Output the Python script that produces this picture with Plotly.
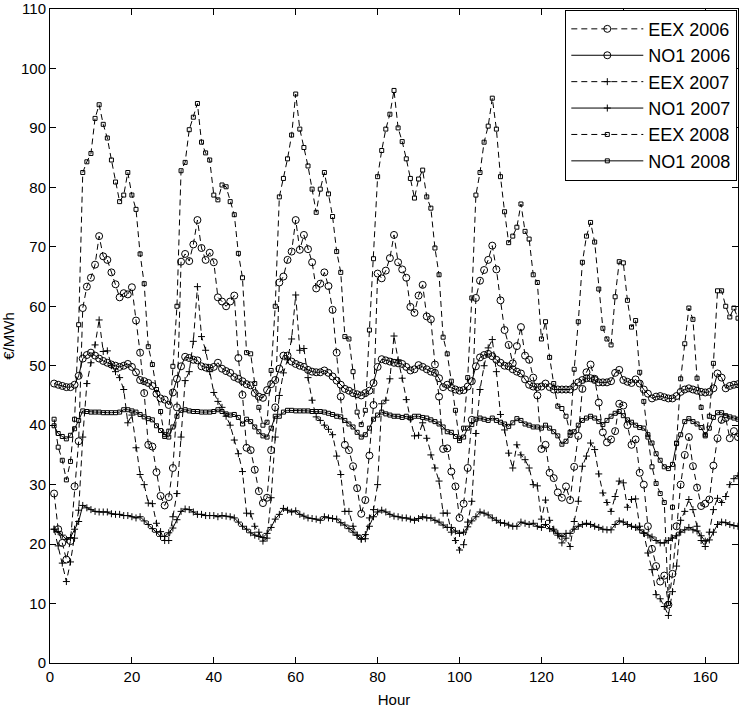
import plotly.graph_objects as go

hours = list(range(1, 169))

eex_2006 = [
    28.5, 22.5, 20.2, 17.4, 20.5, 29.7, 37.3, 59.7, 63.3, 64.8, 67.0, 71.8, 68.4, 67.8, 65.7, 63.7, 61.5, 62.2, 62.0, 63.2, 57.6, 52.2, 45.4, 36.7,
    36.4, 32.1, 28.1, 26.5, 27.9, 32.8, 43.0, 67.5, 68.8, 67.6, 70.4, 74.5, 69.8, 67.8, 69.0, 67.4, 61.5, 60.8, 60.0, 60.8, 61.8, 51.3, 45.1, 36.2,
    35.8, 32.5, 28.9, 26.9, 27.8, 35.8, 43.0, 64.0, 65.0, 67.8, 69.2, 74.5, 69.5, 72.0, 69.6, 67.4, 63.0, 63.8, 65.7, 63.4, 59.4, 52.2, 44.8, 36.7,
    35.8, 33.1, 29.4, 25.1, 27.4, 34.9, 43.4, 65.5, 64.7, 66.0, 68.1, 72.0, 67.4, 66.2, 64.8, 59.9, 58.9, 61.8, 63.6, 58.3, 57.8, 50.2, 44.8, 36.0,
    36.1, 32.2, 29.7, 24.4, 26.8, 32.8, 40.9, 61.4, 64.3, 66.1, 67.8, 70.2, 66.2, 61.0, 56.0, 53.5, 50.4, 53.3, 56.5, 51.7, 51.0, 48.0, 45.0, 36.0,
    36.7, 32.0, 31.1, 28.7, 27.8, 29.7, 27.4, 33.0, 38.2, 46.1, 48.9, 50.2, 47.8, 43.8, 38.8, 37.1, 37.6, 39.0, 43.6, 43.3, 40.0, 36.7, 37.6, 32.0,
    30.0, 23.0, 19.2, 16.3, 13.7, 14.7, 9.8, 15.0, 23.0, 30.0, 35.0, 38.0, 33.1, 29.5, 26.4, 26.8, 27.5, 33.2, 37.8, 40.9, 41.2, 37.8, 39.0, 38.0,
]

no1_2006 = [
    47.0, 46.8, 46.6, 46.4, 46.4, 46.8, 48.3, 51.2, 51.8, 52.2, 51.7, 51.2, 50.8, 50.5, 50.2, 50.0, 49.8, 50.0, 50.3, 49.8, 48.9, 47.6, 47.4, 47.1,
    46.6, 45.3, 44.5, 44.3, 43.4, 45.5, 47.8, 49.9, 51.5, 51.3, 51.0, 50.9, 49.9, 49.7, 49.6, 49.8, 50.5, 49.5, 49.1, 48.8, 48.1, 47.8, 47.4, 46.9,
    46.7, 45.4, 44.8, 44.6, 45.9, 46.9, 47.6, 49.5, 51.7, 51.7, 50.7, 50.3, 50.0, 49.8, 49.3, 49.0, 48.9, 48.9, 49.2, 48.8, 48.2, 47.5, 46.8, 46.1,
    45.8, 45.4, 45.2, 45.0, 45.4, 45.8, 47.1, 49.8, 51.1, 50.9, 50.7, 50.5, 50.4, 50.3, 49.8, 49.2, 49.4, 50.1, 49.8, 49.4, 49.0, 48.8, 47.9, 46.4,
    46.8, 46.3, 46.0, 45.8, 45.9, 46.5, 47.4, 49.9, 51.4, 51.8, 52.0, 51.6, 51.0, 50.5, 50.0, 49.9, 49.4, 49.0, 48.7, 47.7, 46.8, 46.5, 46.4, 46.5,
    47.0, 46.4, 46.0, 46.0, 46.0, 46.0, 46.0, 46.5, 47.2, 47.6, 47.9, 47.9, 47.6, 47.2, 47.2, 47.2, 47.4, 48.8, 49.3, 47.6, 47.3, 47.1, 47.7, 47.0,
    46.0, 45.3, 44.5, 44.8, 44.9, 44.7, 44.5, 44.5, 44.9, 45.6, 46.0, 46.2, 46.0, 45.8, 45.6, 45.5, 45.6, 46.2, 48.7, 48.0, 46.2, 46.6, 46.8, 46.9,
]

eex_2007 = [
    22.5, 19.7, 16.8, 13.7, 17.0, 21.0, 25.7, 38.0, 47.0, 50.5, 53.5, 57.7, 52.4, 52.5, 50.0, 49.0, 48.0, 46.0, 40.4, 41.7, 36.2, 31.7, 30.0, 26.9,
    26.8, 23.5, 22.1, 20.6, 20.6, 24.6, 28.5, 38.0, 47.5, 49.0, 54.1, 63.3, 54.9, 52.6, 49.0, 45.5, 44.0, 43.0, 41.5, 40.0, 37.5, 35.2, 32.2, 25.2,
    25.1, 23.0, 22.0, 20.5, 21.0, 27.8, 38.0, 45.0, 48.8, 51.0, 54.5, 61.9, 52.6, 52.9, 48.0, 44.2, 41.4, 40.8, 40.0, 39.3, 38.4, 34.8, 31.7, 25.5,
    25.5, 23.0, 21.5, 20.8, 20.9, 24.4, 25.8, 30.0, 43.6, 44.2, 47.8, 55.0, 51.0, 47.9, 44.3, 41.0, 38.2, 38.3, 40.4, 37.8, 35.0, 32.8, 30.6, 25.2,
    25.2, 22.0, 20.6, 19.0, 19.9, 23.7, 27.2, 38.6, 46.0, 50.0, 53.0, 54.4, 49.0, 41.8, 39.2, 35.3, 32.8, 36.7, 35.0, 34.2, 32.8, 30.0, 29.8, 24.2,
    27.4, 24.0, 22.5, 21.5, 20.2, 21.0, 19.6, 23.8, 27.2, 33.1, 34.8, 37.0, 35.9, 31.8, 28.6, 27.0, 25.5, 28.0, 30.6, 30.3, 26.2, 27.5, 27.6, 23.0,
    21.8, 18.5, 15.7, 11.5, 10.8, 9.5, 8.0, 12.0, 16.3, 24.0, 25.5, 27.5, 25.8, 23.0, 20.6, 19.6, 22.0, 25.8, 27.7, 27.0, 28.0, 30.0, 31.0, 31.5,
]

no1_2007 = [
    22.5, 22.1, 21.5, 20.8, 21.1, 22.5, 23.8, 26.5, 26.1, 25.8, 25.5, 25.4, 25.4, 25.4, 25.1, 25.0, 25.0, 24.8, 24.8, 24.6, 24.4, 24.6, 23.9, 23.3,
    22.6, 22.0, 21.3, 21.3, 21.9, 22.7, 24.1, 25.5, 25.9, 25.8, 25.4, 25.0, 25.0, 24.8, 24.8, 24.8, 24.6, 24.8, 24.7, 24.6, 24.4, 23.7, 23.0, 22.5,
    21.9, 21.5, 21.3, 21.1, 21.8, 22.8, 24.2, 25.0, 26.0, 25.7, 25.4, 25.6, 25.0, 24.7, 24.4, 24.3, 24.2, 24.0, 24.6, 24.4, 24.3, 24.2, 23.6, 23.2,
    22.6, 22.0, 21.5, 20.9, 21.6, 23.0, 24.6, 25.4, 25.7, 25.4, 25.0, 24.7, 24.6, 24.4, 24.4, 24.2, 24.0, 24.3, 24.6, 24.4, 24.4, 24.0, 23.7, 23.2,
    22.8, 22.8, 22.2, 21.8, 22.0, 22.9, 23.9, 24.6, 25.4, 25.2, 24.9, 24.4, 24.0, 23.6, 23.5, 23.2, 23.0, 23.0, 23.7, 23.5, 23.3, 23.5, 23.0, 22.8,
    23.3, 22.6, 22.2, 21.8, 21.3, 21.8, 21.8, 22.5, 23.0, 23.3, 23.5, 23.3, 23.0, 22.8, 22.5, 22.4, 22.4, 23.3, 23.9, 23.7, 23.3, 23.0, 22.8, 22.4,
    21.9, 21.5, 21.2, 20.6, 20.2, 20.2, 20.6, 21.0, 21.4, 22.0, 22.4, 22.8, 22.4, 22.2, 21.4, 20.5, 20.7, 22.0, 23.3, 23.7, 23.6, 23.3, 23.1, 23.0,
]

eex_2008 = [
    41.0, 36.3, 34.1, 30.8, 33.9, 41.0, 56.9, 82.5, 84.3, 85.7, 91.6, 93.9, 90.6, 88.3, 84.6, 80.9, 77.6, 78.7, 82.5, 78.7, 76.3, 68.8, 63.8, 53.2,
    50.2, 46.0, 42.3, 38.1, 39.0, 49.9, 60.0, 82.8, 84.2, 89.7, 91.8, 94.1, 87.6, 85.8, 84.6, 78.7, 77.9, 80.4, 80.1, 77.6, 75.4, 68.9, 64.8, 52.2,
    52.0, 47.0, 43.0, 40.0, 40.5, 49.2, 60.0, 78.4, 81.5, 84.8, 88.8, 95.7, 89.8, 86.7, 83.6, 79.7, 75.8, 79.7, 82.5, 78.9, 75.1, 69.2, 65.7, 54.9,
    54.5, 49.0, 42.2, 40.1, 42.5, 56.0, 68.0, 81.8, 86.2, 89.8, 92.3, 96.3, 90.0, 87.7, 84.8, 81.5, 78.2, 81.4, 82.9, 78.4, 76.5, 69.8, 65.3, 54.8,
    52.0, 47.4, 42.5, 37.4, 39.5, 48.0, 61.4, 78.7, 82.5, 87.6, 90.3, 95.0, 89.8, 81.8, 75.9, 70.7, 71.8, 73.3, 77.2, 72.6, 71.3, 65.3, 64.0, 54.5,
    57.4, 51.4, 47.0, 43.2, 42.8, 41.5, 38.8, 49.4, 57.4, 67.4, 71.8, 74.1, 70.8, 62.9, 56.3, 54.5, 53.5, 61.6, 67.5, 67.3, 61.0, 56.5, 57.6, 48.9,
    44.0, 38.0, 33.0, 30.2, 28.5, 27.0, 10.0, 26.2, 37.0, 47.8, 53.7, 59.7, 57.8, 47.9, 43.0, 38.2, 41.5, 50.4, 62.6, 62.6, 60.0, 58.2, 59.7, 58.0,
]

no1_2008 = [
    39.9, 38.6, 38.1, 37.7, 38.3, 39.4, 40.8, 42.4, 42.3, 42.2, 42.2, 42.2, 42.1, 42.1, 42.1, 42.1, 42.2, 42.6, 42.6, 42.4, 42.2, 41.8, 41.4, 41.1,
    40.9, 39.9, 39.1, 38.4, 38.0, 39.7, 41.5, 42.5, 42.6, 42.4, 42.3, 42.3, 42.2, 42.2, 42.2, 42.3, 42.6, 42.3, 41.9, 41.7, 41.8, 41.3, 40.2, 41.0,
    40.6, 39.7, 38.9, 38.2, 38.0, 39.5, 41.5, 41.5, 42.2, 42.5, 42.5, 42.4, 42.4, 42.4, 42.4, 42.3, 42.3, 42.3, 42.2, 42.0, 41.8, 41.5, 41.4, 40.8,
    40.2, 39.7, 38.8, 38.0, 38.4, 39.5, 41.0, 41.7, 42.2, 41.9, 41.7, 41.5, 41.5, 41.3, 41.5, 41.2, 41.5, 41.5, 41.3, 41.2, 40.9, 40.6, 40.2, 39.7,
    38.9, 38.8, 38.1, 37.8, 38.0, 39.5, 40.1, 41.0, 41.2, 41.0, 40.8, 41.2, 40.8, 40.5, 40.2, 39.8, 40.4, 41.1, 40.8, 40.2, 40.0, 39.7, 39.7, 39.5,
    40.0, 39.5, 38.9, 38.2, 36.8, 37.3, 38.3, 38.9, 40.0, 40.8, 41.2, 41.5, 41.2, 40.6, 40.1, 40.8, 41.5, 42.0, 42.3, 41.6, 40.9, 40.5, 40.0, 39.6,
    39.5, 38.4, 37.0, 35.2, 34.1, 33.0, 32.7, 33.4, 36.9, 38.4, 40.6, 41.1, 40.6, 40.2, 39.6, 38.4, 39.5, 41.3, 42.1, 42.1, 41.6, 41.4, 41.2, 41.0,
]

x_ticks = [0, 20, 40, 60, 80, 100, 120, 140, 160]
y_ticks = [0, 10, 20, 30, 40, 50, 60, 70, 80, 90, 100, 110]

DASH = "6px,4px"
FONT = "Liberation Sans, Arial, sans-serif"

series = [
    ("EEX 2006", eex_2006, DASH, "circle-open", 7),
    ("NO1 2006", no1_2006, "solid", "circle-open", 7),
    ("EEX 2007", eex_2007, DASH, "cross-thin-open", 5),
    ("NO1 2007", no1_2007, "solid", "cross-thin-open", 5),
    ("EEX 2008", eex_2008, DASH, "square-open", 4),
    ("NO1 2008", no1_2008, "solid", "square-open", 4),
]

fig = go.Figure()
for name, vals, dash, symbol, size in series:
    fig.add_trace(go.Scatter(
        x=hours, y=vals, name=name, mode="lines+markers",
        line=dict(color="black", width=1, dash=dash),
        marker=dict(symbol=symbol, size=size, color="black",
                    line=dict(color="black", width=1)),
    ))

axis_common = dict(
    showline=True, linecolor="black", linewidth=1, mirror="ticks",
    ticks="inside", ticklen=6, tickcolor="black", tickwidth=1,
    showgrid=False, zeroline=False, automargin=False,
    tickfont=dict(family=FONT, size=15, color="black"),
)

fig.update_layout(
    width=741, height=711,
    margin=dict(l=50, r=3, t=9, b=48),
    paper_bgcolor="white", plot_bgcolor="white",
    font=dict(family=FONT, size=15, color="black"),
    xaxis=dict(range=[0, 168], tickvals=x_ticks, **axis_common,
               title=dict(text="Hour", standoff=10, font=dict(size=15))),
    yaxis=dict(range=[0, 110], tickvals=y_ticks, **axis_common,
               title=dict(text="€/MWh", standoff=3, font=dict(size=15))),
    legend=dict(
        x=0.999, y=0.999, xanchor="right", yanchor="top",
        bgcolor="white", bordercolor="black", borderwidth=1,
        font=dict(family=FONT, size=18, color="black"),
        itemwidth=72, tracegroupgap=0,
    ),
    showlegend=True,
)

fig.write_html("out.html")
